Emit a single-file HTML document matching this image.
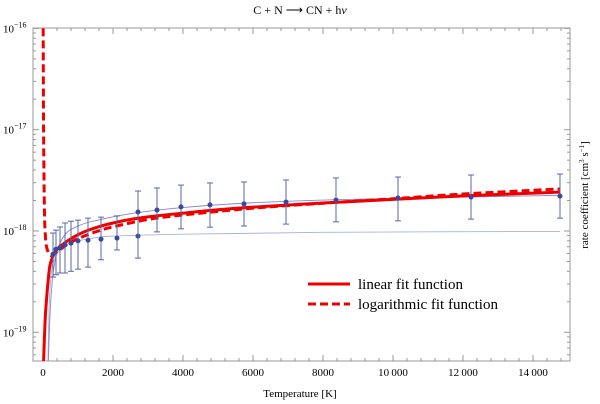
<!DOCTYPE html>
<html><head><meta charset="utf-8">
<style>
html,body{margin:0;padding:0;background:#fff;}
svg{display:block;font-family:"Liberation Serif",serif;}
</style></head>
<body>
<svg id="chart" width="600" height="404" viewBox="0 0 600 404">
<text x="300" y="14" text-anchor="middle" font-size="12">C + N ⟶ CN + h<tspan font-style="italic">ν</tspan></text>
<text x="300" y="397" text-anchor="middle" font-size="11">Temperature [K]</text>
<text transform="translate(588,195) rotate(-90)" text-anchor="middle" font-size="11">rate coefficient  [cm<tspan dy="-4" font-size="7">3</tspan><tspan dy="4"> s</tspan><tspan dy="-4" font-size="7">−1</tspan><tspan dy="4">]</tspan></text>
<g id="axes"></g>
<g id="curves"></g>
<g id="points"></g>
<g>
<line x1="308" y1="284" x2="350" y2="284" stroke="#e00" stroke-width="3"/>
<text x="358" y="289" font-size="15">linear fit function</text>
<line x1="308" y1="304" x2="350" y2="304" stroke="#e00" stroke-width="3" stroke-dasharray="8,4"/>
<text x="358" y="309" font-size="15">logarithmic fit function</text>
</g>
</svg>
<script>
// data (values in units of 1e-18 cm^3 s^-1)
const pointT = [286,371,486,629,800,1000,1286,1657,2114,2714,2714,3257,3943,4771,5743,6943,8371,10143,12229,14771];
const pointV = [0.59,0.66,0.68,0.73,0.76,0.80,0.81,0.83,0.85,0.89,1.54,1.61,1.73,1.81,1.85,1.93,2.02,2.12,2.16,2.21];
const errHi = [0.955,1.02,1.095,1.2,1.25,1.28,1.34,1.37,1.41,0.89,2.48,2.66,2.84,2.98,3.05,3.19,3.34,3.41,3.57,3.65];
const errLo = [0.351,0.37,0.385,0.385,0.40,0.42,0.44,0.52,0.65,0.89,0.54,0.98,1.05,1.09,1.12,1.17,1.23,1.26,1.31,1.34];
const linT = [15,60,100,150,200,300,400,500,700,1000,1300,1657,2000,2500,3000,4000,5000,6000,8000,10000,12000,14770];
const linV = [0.05,0.13,0.21,0.33,0.46,0.58,0.66,0.71,0.80,0.92,1.02,1.12,1.2,1.3,1.38,1.5,1.62,1.72,1.89,2.05,2.22,2.42];
const logT = [5,15,30,45,60,100,200,300,500,700,1000,1500,2000,3000,4000,6000,8000,10000,12000,14770];
const logV = [100,12,3,1.4,1.0,0.7,0.58,0.59,0.66,0.74,0.84,0.98,1.1,1.3,1.44,1.68,1.88,2.08,2.32,2.6];
const upT = [150,200,250,300,400,500,700,1000,1300,1657,2000,2714,3943,6000,9000,14770];
const upV = [0.05,0.15,0.28,0.41,0.62,0.78,0.98,1.12,1.22,1.3,1.38,1.52,1.7,1.9,2.06,2.25];
const lowT = [140,180,250,300,400,500,700,1000,1500,2000,4000,8000,14770];
const lowV = [0.05,0.2,0.42,0.5,0.6,0.66,0.74,0.8,0.86,0.89,0.93,0.97,0.99];
const xTicks = [0,2000,4000,6000,8000,10000,12000,14000];
const xTickLabels = ["0","2000","4000","6000","8000","10\u2009000","12\u2009000","14\u2009000"];
const yDecades = [-16,-17,-18,-19];

const L=33,R=570,T0=28,B=361;
const X = t => 43 + t*0.035;
const Y = v => 231 - Math.log10(v)*101.3;  // v in 1e-18
const Yd = d => 231 - (d+18)*101.3;
const NS="http://www.w3.org/2000/svg";
function mk(tag, attrs, parent){const e=document.createElementNS(NS,tag);for(const k in attrs)e.setAttribute(k,attrs[k]);parent.appendChild(e);return e;}
const axes=document.getElementById('axes'), curves=document.getElementById('curves'), pts=document.getElementById('points');

let fr=mk('rect',{x:L,y:T0,width:R-L,height:B-T0,fill:'none',stroke:'#999','stroke-width':1},axes);



for(let t=0;t<=15000;t+=400){
  const major = t%2000===0, len = major?6:3, x=X(t);
  let a=mk('line',{x1:x,y1:B,x2:x,y2:B-len,stroke:'#999'},axes);
  
  
  let b=mk('line',{x1:x,y1:T0,x2:x,y2:T0+len,stroke:'#999'},axes);
  
  
}
xTicks.forEach((t,i)=>{
  const tx=mk('text',{x:X(t),y:B+15,'text-anchor':'middle','font-size':11},axes);
  tx.textContent=xTickLabels[i];
  
  
});
for(let d=-20; d<=-16; d++){
  for(let m=1;m<10;m++){
    const y=Yd(d)-Math.log10(m)*101.3;
    if(y<T0-0.5||y>B+0.5) continue;
    const len=m===1?6:3;
    let a=mk('line',{x1:L,y1:y,x2:L+len,y2:y,stroke:'#999'},axes);
    
    
    let b=mk('line',{x1:R,y1:y,x2:R-len,y2:y,stroke:'#999'},axes);
    
    
  }
}
yDecades.forEach(d=>{
  const tx=mk('text',{x:3,y:Yd(d)+4,'font-size':11},axes);
  tx.innerHTML='10<tspan dy="-5" font-size="8">'+String(d).replace('-','\u2212')+'</tspan>';
  
  
});

const clip=mk('clipPath',{id:'pc'},curves); mk('rect',{x:L,y:T0,width:R-L,height:B-T0},clip);
function curve(ts,vs,attrs,name){
  const P=ts.map((t,i)=>[X(t),Y(vs[i])]);
  let d='M'+P[0][0].toFixed(2)+','+P[0][1].toFixed(2);
  for(let i=0;i<P.length-1;i++){
    const p0=P[Math.max(0,i-1)],p1=P[i],p2=P[i+1],p3=P[Math.min(P.length-1,i+2)];
    const c1=[p1[0]+(p2[0]-p0[0])/6,p1[1]+(p2[1]-p0[1])/6];
    const c2=[p2[0]-(p3[0]-p1[0])/6,p2[1]-(p3[1]-p1[1])/6];
    d+='C'+c1[0].toFixed(2)+','+c1[1].toFixed(2)+' '+c2[0].toFixed(2)+','+c2[1].toFixed(2)+' '+p2[0].toFixed(2)+','+p2[1].toFixed(2);
  }
  const p=mk('path',Object.assign({d:d,fill:'none','clip-path':'url(#pc)','stroke-linejoin':'round'},attrs),curves);
  
  
}
curve(lowT,lowV,{stroke:'#aab0e0','stroke-width':0.9},'lower-bound-line');
curve(upT,upV,{stroke:'#8088cc','stroke-width':0.9},'upper-bound-line');
curve(linT,linV,{stroke:'#e00','stroke-width':3},'linear-fit-line');
curve(logT,logV,{stroke:'#e00','stroke-width':3,'stroke-dasharray':'8,4'},'log-fit-line');

pointT.forEach((t,i)=>{
  const x=X(t);
  if(errHi[i]!==errLo[i]){
    const yh=Y(errHi[i]), yl=Y(errLo[i]);
    const g=mk('g',{stroke:'#5866a8','stroke-width':1},pts);
    
    
    mk('line',{x1:x,y1:yh,x2:x,y2:yl},g);
    mk('line',{x1:x-3,y1:yh,x2:x+3,y2:yh},g);
    mk('line',{x1:x-3,y1:yl,x2:x+3,y2:yl},g);
  }
  const c=mk('circle',{cx:x,cy:Y(pointV[i]),r:2.5,fill:'#3a48a0'},pts);
  
  
});
</script>
</body></html>
